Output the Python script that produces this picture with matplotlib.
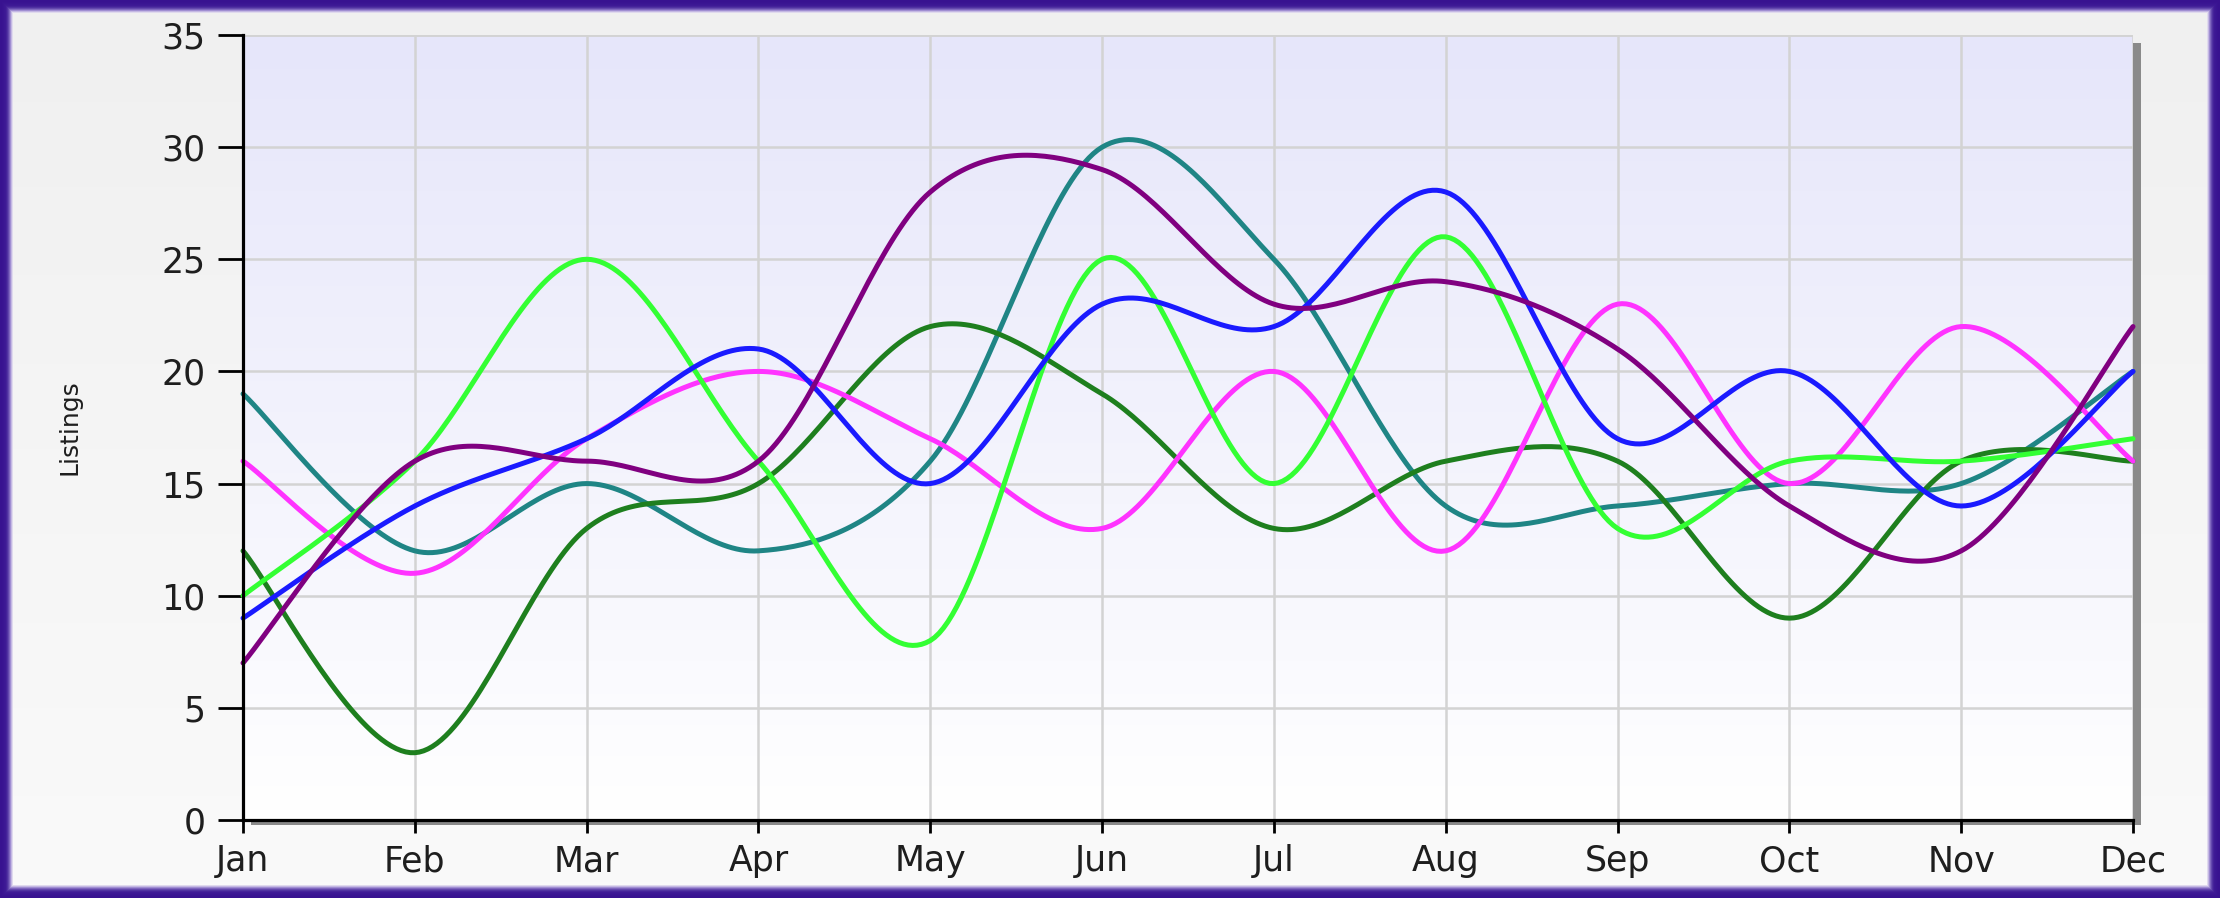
import numpy as np
import matplotlib
matplotlib.use("Agg")
import matplotlib.pyplot as plt
from matplotlib.patches import Rectangle
from matplotlib.colors import LinearSegmentedColormap

plt.rcParams['font.family'] = ['DejaVu Sans']

months = ["Jan", "Feb", "Mar", "Apr", "May", "Jun", "Jul", "Aug", "Sep", "Oct", "Nov", "Dec"]
y_ticks = [0, 5, 10, 15, 20, 25, 30, 35]

magenta = [16, 11, 17, 20, 17, 13, 20, 12, 23, 15, 22, 16]
lime = [10, 16, 25, 16, 8, 25, 15, 26, 13, 16, 16, 17]
blue = [9, 14, 17, 21, 15, 23, 22, 28, 17, 20, 14, 20]
teal = [19, 12, 15, 12, 16, 30, 25, 14, 14, 15, 15, 20]
purple = [7, 16, 16, 16, 28, 29, 23, 24, 21, 14, 12, 22]
darkgreen = [12, 3, 13, 15, 22, 19, 13, 16, 16, 9, 16, 16]

series = [
    (teal, "#1F8585"),
    (darkgreen, "#1E7F1E"),
    (magenta, "#FF33FF"),
    (lime, "#33FF33"),
    (blue, "#1A1AFF"),
    (purple, "#800080"),
]


def cardinal_spline(xs, ys, tension=0.5, n=40):
    P = np.column_stack([xs, ys]).astype(float)
    m = len(P)
    out = []
    for i in range(m - 1):
        p0 = P[i - 1] if i > 0 else P[i]
        p1 = P[i]
        p2 = P[i + 1]
        p3 = P[i + 2] if i + 2 < m else P[i + 1]
        c1 = p1 + tension / 3.0 * (p2 - p0)
        c2 = p2 - tension / 3.0 * (p3 - p1)
        t = np.linspace(0, 1, n)[:, None]
        b = ((1 - t) ** 3) * p1 + 3 * ((1 - t) ** 2) * t * c1 + 3 * (1 - t) * t ** 2 * c2 + t ** 3 * p2
        if i > 0:
            b = b[1:]
        out.append(b)
    out = np.vstack(out)
    return out[:, 0], out[:, 1]


W, H = 2220, 898
fig = plt.figure(figsize=(W / 100, H / 100), dpi=100)
fig.patch.set_facecolor("#F2F2F2")

bg = fig.add_axes([0, 0, 1, 1], zorder=-10)
bg.axis("off")
bg.set_xlim(0, W)
bg.set_ylim(0, H)

# bevelled purple frame (nested filled rectangles, outer to inner)
frame_cols = ["#381290", "#381290", "#391391", "#3A1592", "#3C1794", "#3E1A95",
              "#452299", "#5032A1", "#6549AE", "#8068BF", "#A08ED2", "#C4B8E3", "#E0DAEE"]
for k, c in enumerate(frame_cols):
    bg.add_patch(Rectangle((k, k), W - 2 * k, H - 2 * k, facecolor=c, edgecolor="none", zorder=1))
inset = len(frame_cols)
grad = np.linspace(0, 1, 256)[:, None]
bg_cmap = LinearSegmentedColormap.from_list("bg", ["#F0F0F0", "#FAFAFA"])
bg.imshow(grad, aspect="auto", cmap=bg_cmap, extent=[inset, W - inset, inset, H - inset],
          origin="upper", zorder=2)
bg.set_xlim(0, W)
bg.set_ylim(0, H)

# plot area geometry in pixels
L, R, T, B = 243, 2133, 35, 820
# drop shadow of plot area
bg.add_patch(Rectangle((L + 8, H - B - 5), R - L, B - T - 3, facecolor="#8A8A8A", edgecolor="none", zorder=3))

ax = fig.add_axes([L / W, (H - B) / H, (R - L) / W, (B - T) / H])
ax.set_xlim(0, 11)
ax.set_ylim(0, 35)
cmap = LinearSegmentedColormap.from_list("pa", ["#E6E6FA", "#FFFFFF"])
ax.imshow(grad, aspect="auto", cmap=cmap, extent=[0, 11, 0, 35], origin="upper", zorder=0)

ax.set_xticks(range(len(months)))
ax.set_xticklabels(months)
ax.set_yticks(y_ticks)
ax.grid(True, color="#D3D3D3", lw=1.8, zorder=1)

for s in ["top", "right"]:
    ax.spines[s].set_visible(False)
for s in ["left", "bottom"]:
    ax.spines[s].set_linewidth(2.3)
    ax.spines[s].set_color("#000000")
    ax.spines[s].set_zorder(4)

ax.tick_params(axis="y", length=18, width=2, pad=9, labelsize=25, colors="#000000", labelcolor="#1E1E1E")
ax.tick_params(axis="x", length=9.5, width=2, pad=8, labelsize=25, colors="#000000", labelcolor="#1E1E1E")

ax.axhline(35, color="#D3D3D3", lw=1.8, zorder=1)

xs = np.arange(len(months))
for vals, col in series:
    sx, sy = cardinal_spline(xs, vals)
    ax.plot(sx, sy, color=col, lw=3.6, zorder=3, solid_capstyle="round", clip_on=False)

fig.text(70 / W, 1 - ((T + B) / 2) / H, "Listings", rotation=90, ha="center", va="center",
         fontsize=18, color="#1E1E1E")

fig.savefig("out.png", dpi=100, facecolor=fig.get_facecolor())
